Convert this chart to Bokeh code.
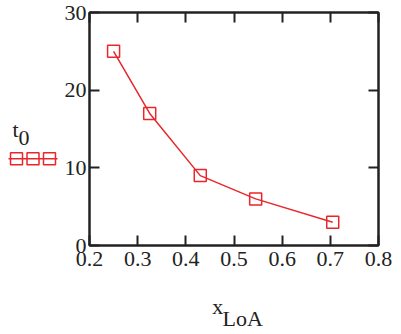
from bokeh.plotting import figure
from bokeh.models import Range1d, LinearAxis, FixedTicker
from bokeh.layouts import gridplot
from bokeh.core.properties import value
from bokeh.embed import file_html
from bokeh.resources import INLINE

# data
x_loa = [0.25, 0.325, 0.43, 0.545, 0.705]
t0 = [25, 17, 9, 6, 3]
x_ticks = [0.2, 0.3, 0.4, 0.5, 0.6, 0.7, 0.8]
y_ticks = [0, 10, 20, 30]
series_name, series_sub = "t", "0"
x_name, x_sub = "x", "LoA"

RED = "#e8262b"
FONT = "Liberation Serif"
FS = "22px"
INK = "#222222"
TOP_H = 290

# legend panel (left); frame y 11..245 like the main frame
lg = figure(width=60, height=TOP_H, output_backend="svg", toolbar_location=None,
            x_range=Range1d(0, 60), y_range=Range1d(245, 11),
            min_border_left=0, min_border_right=0,
            min_border_top=11, min_border_bottom=TOP_H - 245)
lg.axis.visible = False
lg.grid.visible = False
lg.outline_line_color = None
lg.line([8, 57], [158, 158], line_color=RED, line_width=1.5)
for sx in (16, 32.5, 49):
    lg.scatter([sx], [158], marker="square", size=12,
               line_color=RED, fill_color=None, line_width=1.5)
lg.text([12], [129], text=[series_name], text_font=value(FONT), text_font_size=FS,
        text_color=INK, text_baseline="alphabetic")
lg.text([18], [137], text=[series_sub], text_font=value(FONT), text_font_size=FS,
        text_color=INK, text_baseline="alphabetic")

# main plot
p = figure(width=341, height=TOP_H, output_backend="svg", toolbar_location=None,
           x_range=Range1d(0.2, 0.8), y_range=Range1d(0, 30),
           min_border_left=29, min_border_right=23,
           min_border_top=11, min_border_bottom=TOP_H - 245)
p.grid.visible = False
p.outline_line_color = INK
p.outline_line_width = 2

p.line(x_loa, t0, line_color=RED, line_width=1.5)
p.scatter(x_loa, t0, marker="square", size=12, line_color=RED,
          fill_color=None, line_width=1.5)

for ax in (p.xaxis[0], p.yaxis[0]):
    ax.major_tick_in = 10
    ax.major_tick_out = 0
    ax.minor_tick_line_color = None
    ax.major_tick_line_width = 2
    ax.axis_line_width = 2
    ax.axis_line_color = INK
    ax.major_tick_line_color = INK
    ax.major_label_text_font = FONT
    ax.major_label_text_font_size = FS
    ax.major_label_text_color = INK
p.xaxis[0].ticker = FixedTicker(ticks=x_ticks)
p.yaxis[0].ticker = FixedTicker(ticks=y_ticks)
p.xaxis[0].major_label_standoff = 6
p.yaxis[0].major_label_standoff = 3


def mirror(ticks):
    return LinearAxis(ticker=FixedTicker(ticks=ticks), major_tick_in=10, major_tick_out=0,
                      minor_tick_line_color=None, major_tick_line_width=2,
                      axis_line_width=2, axis_line_color=INK,
                      major_tick_line_color=INK,
                      major_label_overrides={t: " " for t in ticks},
                      major_label_text_font_size="8px",
                      major_label_standoff=0)


p.add_layout(mirror(y_ticks), "right")
p.add_layout(mirror(x_ticks), "above")

# x-axis title strip under the main plot (shares the x range)
xl = figure(width=341, height=334 - TOP_H, output_backend="svg", toolbar_location=None,
            x_range=p.x_range, y_range=Range1d(334, TOP_H),
            min_border_left=29, min_border_right=23,
            min_border_top=0, min_border_bottom=0)
xl.axis.visible = False
xl.grid.visible = False
xl.outline_line_color = None
xl.text([0.455], [306], text=[x_name], text_font=value(FONT), text_font_size=FS,
        text_color=INK, text_baseline="alphabetic")
xl.text([0.476], [318], text=[x_sub], text_font=value(FONT), text_font_size=FS,
        text_color=INK, text_baseline="alphabetic")

layout = gridplot([[lg, p], [None, xl]], toolbar_location=None)
open("out.html", "w").write(file_html(layout, INLINE))
